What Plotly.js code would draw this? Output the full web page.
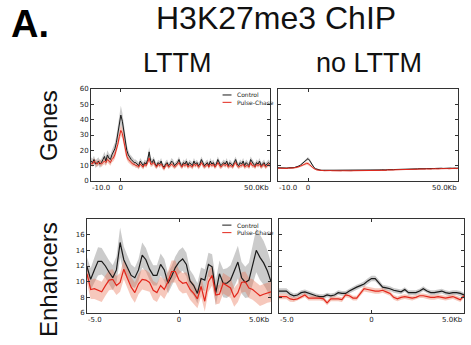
<!DOCTYPE html>
<html><head><meta charset="utf-8">
<script src="https://cdn.plot.ly/plotly-3.0.1.min.js"></script>
<style>html,body{margin:0;padding:0;background:#fff}#chart{width:471px;height:345px}</style>
</head><body><div id="chart"></div>
<script>
// ---------- DATA ----------
// Genes panels: position in Kb (-10 .. 50, 0.5 Kb bins)
const genesStart = -10, genesStep = 0.5;
const genesLTTMControl = [13,12,14,11,12,13,11,12,14,16,13,17,15,14,17,
  19,21,25,31,37,43,39,32,25,20,17,
  15,14,13,12,12,11,10,13,11,10,12,11,14,19,13,
  12,14,11,10,12,11,13,10,9,11,12,10,11,13,12,10,11,12,14,11,
  10,12,11,13,10,12,11,10,13,11,12,10,11,14,12,10,11,12,10,13,
  11,12,10,11,14,12,10,11,12,11,13,10,12,11,10,12,14,11,10,12,
  11,13,10,12,11,10,14,12,11,10,12,11,13,10,11,12,10,11,12,11];
const genesLTTMControlSem = [2.5,2.5,2.5,2.5,2.5,2.5,2.5,2.5,2.5,3,3,3,3,3,3,
  3.5,4,4.5,5,5.5,6,5.5,5,4,3.5,3,
  2.5,2.5,2,2,2,2,2,2,2,2,2,2,2.5,3,2.5,
  2,2,2,1.8,1.8,2,2,1.8,1.8,2,2,1.8,1.8,2,2,1.8,2,2,2,1.8,
  1.8,2,2,2,1.8,1.8,2,2,2,1.8,1.8,2,2,2,1.8,1.8,2,2,1.8,2,
  1.8,2,1.8,1.8,2,2,1.8,1.8,2,1.8,2,1.8,2,1.8,1.8,2,2,1.8,1.8,2,
  1.8,2,1.8,2,1.8,1.8,2,2,1.8,1.8,2,1.8,2,1.8,1.8,2,1.8,1.8,2,1.8];
const genesLTTMPulse = [12,11,13,12,11,12,12,11,12,13,12,14,13,12,14,
  15,17,20,24,29,33,31,26,20,16,14,
  13,12,11,11,10,10,9,11,10,9,11,10,12,15,11,
  11,12,10,9,11,10,11,9,8,10,11,9,10,11,10,9,10,11,12,10,
  9,11,10,11,9,10,10,9,11,10,11,9,10,12,10,9,10,11,9,11,
  10,11,9,10,12,10,9,10,11,10,11,9,10,10,9,11,12,10,9,10,
  10,11,9,10,10,9,12,10,10,9,11,10,11,9,10,11,9,10,11,10];
const genesLTTMPulseSem = [1.8,1.8,1.8,1.8,1.8,1.8,1.8,1.8,1.8,2,2,2,2,2,2,
  2.2,2.5,2.8,3,3.2,3.5,3.2,3,2.6,2.2,2,
  1.8,1.8,1.5,1.5,1.5,1.5,1.5,1.5,1.5,1.5,1.5,1.5,1.8,2,1.8,
  1.5,1.5,1.5,1.4,1.4,1.5,1.5,1.4,1.4,1.5,1.5,1.4,1.4,1.5,1.5,1.4,1.5,1.5,1.5,1.4,
  1.4,1.5,1.5,1.5,1.4,1.4,1.5,1.5,1.5,1.4,1.4,1.5,1.5,1.5,1.4,1.4,1.5,1.5,1.4,1.5,
  1.4,1.5,1.4,1.4,1.5,1.5,1.4,1.4,1.5,1.4,1.5,1.4,1.5,1.4,1.4,1.5,1.5,1.4,1.4,1.5,
  1.4,1.5,1.4,1.5,1.4,1.4,1.5,1.5,1.4,1.4,1.5,1.4,1.5,1.4,1.4,1.5,1.4,1.4,1.5,1.4];
const genesNoControl = [8.6,8.5,8.7,8.5,8.6,8.5,8.4,8.6,8.5,8.6,8.7,8.8,9.0,9.3,9.8,
  10.4,11.2,12.2,13.2,14.2,14.6,13.5,11.8,10.0,8.8,8.0,
  7.6,7.3,7.1,7.0,7.0,6.9,7.0,6.9,6.9,7.0,6.9,6.8,6.9,6.9,6.8,
  6.9,6.8,6.9,6.8,6.8,6.9,6.8,6.9,6.8,6.9,6.9,7.0,6.9,7.0,7.0,7.1,7.0,7.1,7.0,7.1,
  7.1,7.0,7.1,7.2,7.1,7.2,7.1,7.2,7.3,7.2,7.3,7.2,7.4,7.3,7.4,7.5,7.4,7.5,7.5,7.6,
  7.5,7.6,7.7,7.6,7.7,7.8,7.7,7.8,7.7,7.8,7.9,7.8,7.9,8.0,7.9,8.0,8.1,8.0,8.1,8.0,
  8.1,8.0,8.2,8.1,8.2,8.3,8.1,8.2,8.3,8.2,8.3,8.4,8.3,8.2,8.4,8.3,8.4,8.5,8.3,8.4];
const genesNoPulse = [8.4,8.3,8.5,8.3,8.4,8.3,8.2,8.4,8.3,8.4,8.5,8.6,8.7,8.9,9.3,
  9.7,10.2,10.8,11.3,11.5,11.4,10.8,9.8,8.8,8.0,7.5,
  7.2,7.0,6.9,6.8,6.8,6.7,6.8,6.7,6.7,6.8,6.7,6.6,6.7,6.7,6.6,
  6.7,6.6,6.7,6.6,6.6,6.7,6.6,6.7,6.6,6.7,6.7,6.8,6.7,6.8,6.8,6.9,6.8,6.9,6.8,6.9,
  6.9,6.8,6.9,7.0,6.9,7.0,6.9,7.0,7.1,7.0,7.1,7.0,7.2,7.1,7.2,7.3,7.2,7.3,7.3,7.4,
  7.3,7.4,7.5,7.4,7.5,7.6,7.5,7.6,7.5,7.6,7.7,7.6,7.7,7.8,7.7,7.8,7.9,7.8,7.9,7.8,
  7.9,7.8,8.0,7.9,8.0,8.1,7.9,8.0,8.1,8.0,8.1,8.2,8.1,8.0,8.2,8.1,8.2,8.3,8.1,8.2];
const genesNoSem = [0.4,0.4,0.4,0.4,0.4,0.4,0.4,0.4,0.4,0.4,0.4,0.4,0.5,0.5,0.5,
  0.6,0.7,0.8,0.9,1.0,1.1,1.0,0.8,0.6,0.5,0.4,
  0.4,0.3,0.3,0.3,0.3,0.3,0.3,0.3,0.3,0.3,0.3,0.3,0.3,0.3,0.3,
  0.3,0.3,0.3,0.3,0.3,0.3,0.3,0.3,0.3,0.3,0.3,0.3,0.3,0.3,0.3,0.3,0.3,0.3,0.3,0.3,
  0.3,0.3,0.3,0.3,0.3,0.3,0.3,0.3,0.3,0.3,0.3,0.3,0.3,0.3,0.3,0.3,0.3,0.3,0.3,0.3,
  0.3,0.3,0.3,0.3,0.3,0.3,0.3,0.3,0.3,0.3,0.3,0.3,0.3,0.3,0.3,0.3,0.3,0.3,0.3,0.3,
  0.3,0.3,0.3,0.3,0.3,0.3,0.3,0.3,0.3,0.3,0.3,0.3,0.3,0.3,0.3,0.3,0.3,0.3,0.3,0.3];

// Enhancer panels: position in Kb (-5 .. 5, 0.2 Kb bins)
const enhStart = -5, enhStep = 0.2;
const enhLTTMControl = [11.9,10.3,11.5,12.6,12.6,12.0,11.2,10.5,11.5,15.0,12.8,11.8,10.8,10.5,11.5,13.4,12.8,11.6,10.8,10.8,
  12.2,11.5,9.8,10.7,11.8,12.5,12.9,12.2,10.1,9.5,8.5,10.4,10.2,12.2,11.9,8.6,11.0,9.8,9.8,10.2,
  11.3,12.5,10.5,9.9,10.2,12.0,14.0,13.1,12.4,11.4,10.0];
const enhLTTMControlSem = [1.2,1.4,1.6,1.8,1.7,1.5,1.5,1.6,1.7,1.9,1.7,1.5,1.4,1.3,1.4,1.6,1.5,1.4,1.3,1.3,
  1.4,1.4,1.3,1.3,1.4,1.5,1.5,1.5,1.4,1.3,1.3,1.4,1.4,1.5,1.6,1.6,1.7,1.8,1.9,1.9,
  2.0,2.1,2.0,2.0,2.2,2.5,2.8,2.9,2.8,2.6,2.4];
const enhLTTMPulse = [11.0,9.0,9.1,8.9,8.7,9.5,10.2,10.3,9.5,9.9,11.6,10.4,9.3,8.6,9.7,10.3,10.2,9.9,8.9,8.6,
  9.5,9.0,10.0,11.3,11.3,10.2,9.8,9.9,9.0,8.5,7.8,9.4,7.5,10.0,10.8,8.3,8.4,9.8,9.5,9.2,
  8.0,8.6,9.9,10.0,9.2,9.0,8.6,8.2,8.4,8.6,8.7];
const enhLTTMPulseSem = [1.2,1.2,1.3,1.3,1.3,1.3,1.3,1.3,1.2,1.2,1.3,1.3,1.3,1.3,1.3,1.3,1.3,1.2,1.2,1.2,
  1.2,1.2,1.3,1.4,1.4,1.3,1.3,1.3,1.3,1.3,1.2,1.3,1.3,1.3,1.3,1.2,1.2,1.3,1.3,1.3,
  1.2,1.2,1.3,1.3,1.3,1.3,1.3,1.3,1.3,1.3,1.3];
const enhNoControl = [8.8,8.8,8.8,8.4,8.2,8.3,8.6,8.7,8.5,8.3,8.2,8.1,8.1,8.3,8.2,8.3,8.6,8.5,8.5,8.8,
  9.1,9.3,9.5,9.7,10.1,10.4,10.4,9.9,9.3,9.2,9.1,8.9,8.8,8.7,9.0,8.6,8.6,8.6,8.8,9.1,
  8.8,8.6,8.6,8.7,8.8,8.6,8.5,8.6,8.6,8.5,8.3];
const enhNoPulse = [8.1,8.1,8.1,7.8,7.7,7.8,8.1,8.3,7.9,7.9,7.9,7.9,7.8,7.3,7.8,7.8,7.8,7.7,8.3,8.2,
  7.9,7.9,8.5,9.1,9.0,8.9,8.8,8.8,8.9,8.7,8.5,8.0,7.8,8.0,8.1,8.0,7.9,8.0,8.2,8.2,
  8.1,8.0,8.0,8.1,8.0,7.9,8.0,8.1,7.9,7.7,8.2];
const enhNoSem = [0.35,0.35,0.35,0.35,0.3,0.3,0.3,0.3,0.3,0.3,0.3,0.3,0.3,0.3,0.3,0.3,0.3,0.3,0.3,0.3,
  0.3,0.3,0.3,0.35,0.35,0.35,0.35,0.35,0.3,0.3,0.3,0.3,0.3,0.3,0.3,0.3,0.3,0.3,0.3,0.3,
  0.3,0.3,0.3,0.3,0.3,0.3,0.3,0.3,0.3,0.3,0.3];

const seriesNames = ["Control", "Pulse-Chase"];
const rowLabels = ["Genes", "Enhancers"];
const colLabels = ["LTTM", "no LTTM"];
const figTitle = "H3K27me3 ChIP";
const panelTag = "A.";
const genesTickVals = [-10, 0, 50];
const genesTickText = ["-10.0", "0", "50.0Kb"];
const genesYTicks = [0, 10, 20, 30, 40, 50, 60];
const enhTickVals = [-5, 0, 5];
const enhTickText = ["-5.0", "0", "5.0Kb"];
const enhYTicks = [6, 8, 10, 12, 14, 16];

// ---------- STYLE ----------
const BLACK = "#1a1a1a", RED = "#e3261b";
const GREYFILL = "rgba(140,140,140,0.45)", REDFILL = "rgba(232,110,80,0.38)";

function xs(start, step, n) { const a = []; for (let i = 0; i < n; i++) a.push(+(start + i * step).toFixed(3)); return a; }

function band(x, y, s, color, xa, ya) {
  const up = y.map((v, i) => v + s[i]);
  const lo = y.map((v, i) => v - s[i]);
  return { x: x.concat(x.slice().reverse()), y: up.concat(lo.slice().reverse()),
    type: "scatter", mode: "lines", fill: "toself", fillcolor: color,
    line: { width: 0, color: "rgba(0,0,0,0)" }, hoverinfo: "skip", showlegend: false, xaxis: xa, yaxis: ya };
}
function line(x, y, color, w, xa, ya, name) {
  return { x, y, type: "scatter", mode: "lines", line: { color, width: w }, name, showlegend: false, xaxis: xa, yaxis: ya };
}

const gx = xs(genesStart, genesStep, genesLTTMControl.length);
const ex = xs(enhStart, enhStep, enhLTTMControl.length);

const traces = [
  band(gx, genesLTTMControl, genesLTTMControlSem, GREYFILL, "x", "y"),
  band(gx, genesLTTMPulse, genesLTTMPulseSem, REDFILL, "x", "y"),
  line(gx, genesLTTMControl, BLACK, 1, "x", "y", seriesNames[0]),
  line(gx, genesLTTMPulse, RED, 1, "x", "y", seriesNames[1]),
  band(gx, genesNoControl, genesNoSem, GREYFILL, "x2", "y2"),
  band(gx, genesNoPulse, genesNoSem, REDFILL, "x2", "y2"),
  line(gx, genesNoControl, BLACK, 1, "x2", "y2", seriesNames[0]),
  line(gx, genesNoPulse, RED, 1, "x2", "y2", seriesNames[1]),
  band(ex, enhLTTMControl, enhLTTMControlSem, GREYFILL, "x3", "y3"),
  band(ex, enhLTTMPulse, enhLTTMPulseSem, REDFILL, "x3", "y3"),
  line(ex, enhLTTMControl, BLACK, 1.2, "x3", "y3", seriesNames[0]),
  line(ex, enhLTTMPulse, RED, 1.2, "x3", "y3", seriesNames[1]),
  band(ex, enhNoControl, enhNoSem, GREYFILL, "x4", "y4"),
  band(ex, enhNoPulse, enhNoSem, REDFILL, "x4", "y4"),
  line(ex, enhNoControl, BLACK, 1.2, "x4", "y4", seriesNames[0]),
  line(ex, enhNoPulse, RED, 1.2, "x4", "y4", seriesNames[1])
];

const W = 471, H = 345;
const px = v => v / W, py = v => 1 - v / H;
const tickFont = { family: "DejaVu Sans", size: 7, color: "#222" };

function xaxis(dom, rng, vals, text, anchor) {
  return { domain: dom, range: rng, anchor, tickmode: "array", tickvals: vals,
    ticktext: text.map((t, i) => (i === 0 || i === text.length - 1) ? "" : t),
    ticks: "inside", ticklen: 3, tickcolor: "#333", showline: true, linecolor: "#333", linewidth: 1,
    mirror: "allticks", showgrid: false, zeroline: false, tickfont: tickFont, fixedrange: true };
}
function yaxis(dom, rng, vals, labels, anchor) {
  return { domain: dom, range: rng, anchor, tickmode: "array", tickvals: vals,
    ticktext: labels ? vals.map(String) : vals.map(() => ""),
    ticks: "inside", ticklen: 3, tickcolor: "#333", showline: true, linecolor: "#333", linewidth: 1,
    mirror: "allticks", showgrid: false, zeroline: false, tickfont: tickFont, fixedrange: true };
}

// edge tick labels (first aligned left, last aligned right, like the source figure)
const edgeAnn = [];
function edgeLabels(xa, ya, vals, text) {
  const n = vals.length - 1;
  edgeAnn.push({ xref: xa, yref: ya + " domain", x: vals[0], y: 0, text: text[0], showarrow: false,
    xanchor: "left", yanchor: "top", xshift: -1, yshift: -1, font: tickFont });
  edgeAnn.push({ xref: xa, yref: ya + " domain", x: vals[n], y: 0, text: text[n], showarrow: false,
    xanchor: "right", yanchor: "top", xshift: 1, yshift: -1, font: tickFont });
}
edgeLabels("x", "y", genesTickVals, genesTickText);
edgeLabels("x2", "y2", genesTickVals, genesTickText);
edgeLabels("x3", "y3", enhTickVals, enhTickText);
edgeLabels("x4", "y4", enhTickVals, enhTickText);

const topDom = [py(181), py(89)], botDom = [py(313), py(219)];

const legendShapes = [], legendAnn = [];
const legFont = { family: "DejaVu Sans", size: 6, color: "#222" };
function addLegend(xref, yref, y1, y2) {
  const dom = xref + " domain";
  const ydom = yref + " domain";
  legendShapes.push({ type: "line", xref: dom, yref: ydom, x0: 0.735, x1: 0.785, y0: y1, y1: y1, line: { color: BLACK, width: 1 } });
  legendShapes.push({ type: "line", xref: dom, yref: ydom, x0: 0.735, x1: 0.785, y0: y2, y1: y2, line: { color: RED, width: 1 } });
  legendAnn.push({ xref: dom, yref: ydom, x: 0.805, y: y1, text: seriesNames[0], showarrow: false, xanchor: "left", yanchor: "middle", font: legFont });
  legendAnn.push({ xref: dom, yref: ydom, x: 0.805, y: y2, text: seriesNames[1], showarrow: false, xanchor: "left", yanchor: "middle", font: legFont });
}
addLegend("x", "y", 0.935, 0.855);
addLegend("x3", "y3", 0.935, 0.855);

const layout = {
  width: W, height: H, margin: { l: 0, r: 0, t: 0, b: 0 },
  paper_bgcolor: "#fff", plot_bgcolor: "#fff", showlegend: false,
  xaxis: xaxis([px(91), px(270)], [-10, 50], genesTickVals, genesTickText, "y"),
  yaxis: yaxis(topDom, [0, 60], genesYTicks, true, "x"),
  xaxis2: xaxis([px(278), px(458)], [-10, 50], genesTickVals, genesTickText, "y2"),
  yaxis2: yaxis(topDom, [0, 60], genesYTicks, false, "x2"),
  xaxis3: xaxis([px(87), px(271)], [-5, 5], enhTickVals, enhTickText, "y3"),
  yaxis3: yaxis(botDom, [6, 18], enhYTicks, true, "x3"),
  xaxis4: xaxis([px(279), px(464)], [-5, 5], enhTickVals, enhTickText, "y4"),
  yaxis4: yaxis(botDom, [6, 18], enhYTicks, false, "x4"),
  shapes: legendShapes,
  annotations: legendAnn.concat(edgeAnn).concat([
    { xref: "paper", yref: "paper", x: px(30), y: py(24), text: "<b>" + panelTag + "</b>", showarrow: false, xanchor: "center", yanchor: "middle", font: { family: "Liberation Sans", size: 38, color: "#000" } },
    { xref: "paper", yref: "paper", x: px(276), y: py(18), text: figTitle, showarrow: false, xanchor: "center", yanchor: "middle", font: { family: "Liberation Sans", size: 32, color: "#111" } },
    { xref: "paper", yref: "paper", x: px(177), y: py(63), text: colLabels[0], showarrow: false, xanchor: "center", yanchor: "middle", font: { family: "Liberation Sans", size: 27, color: "#111" } },
    { xref: "paper", yref: "paper", x: px(369), y: py(63), text: colLabels[1], showarrow: false, xanchor: "center", yanchor: "middle", font: { family: "Liberation Sans", size: 27, color: "#111" } },
    { xref: "paper", yref: "paper", x: px(48), y: py(126), text: rowLabels[0], showarrow: false, textangle: -90, xanchor: "center", yanchor: "middle", font: { family: "Liberation Sans", size: 24, color: "#111" } },
    { xref: "paper", yref: "paper", x: px(48), y: py(280), text: rowLabels[1], showarrow: false, textangle: -90, xanchor: "center", yanchor: "middle", font: { family: "Liberation Sans", size: 24, color: "#111" } }
  ])
};

Plotly.newPlot("chart", traces, layout, { staticPlot: true, displayModeBar: false });
</script></body></html>
